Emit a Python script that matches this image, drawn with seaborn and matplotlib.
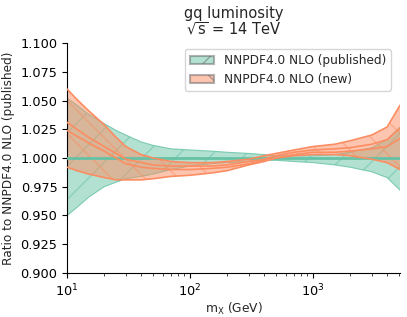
import numpy as np
import seaborn as sns
import matplotlib
matplotlib.use("Agg")
import matplotlib.pyplot as plt
from matplotlib.patches import Patch

# invariant mass grid (GeV)
mx = [10, 12, 15, 20, 25, 30, 40, 50, 70, 100, 150, 200, 300, 400, 500, 700,
      1000, 1500, 2000, 3000, 4000, 5100]

# published: 68% band (ratio to itself)
pub_up = [1.052, 1.046, 1.038, 1.030, 1.024, 1.020, 1.014, 1.011, 1.008, 1.007, 1.006,
          1.005, 1.004, 1.003, 1.002, 1.002, 1.002, 1.003, 1.005, 1.009, 1.016, 1.027]
pub_lo = [0.950, 0.957, 0.966, 0.975, 0.979, 0.982, 0.984, 0.986, 0.990, 0.993, 0.995,
          0.996, 0.997, 0.998, 0.998, 0.997, 0.996, 0.994, 0.992, 0.988, 0.983, 0.972]
pub_cv = [1.0] * len(mx)

# new fit
new_up = [1.060, 1.051, 1.041, 1.029, 1.018, 1.010, 1.003, 1.000, 0.997, 0.996, 0.996,
          0.997, 0.999, 1.002, 1.004, 1.007, 1.010, 1.012, 1.015, 1.020, 1.027, 1.046]
new_lo = [0.992, 0.989, 0.986, 0.983, 0.981, 0.981, 0.981, 0.982, 0.984, 0.985, 0.987,
          0.989, 0.994, 0.997, 1.000, 1.002, 1.003, 1.003, 1.002, 0.999, 0.996, 0.990]
new_a = [1.031, 1.025, 1.018, 1.010, 1.004, 0.999, 0.996, 0.994, 0.993, 0.993, 0.993,
         0.994, 0.997, 0.999, 1.002, 1.005, 1.007, 1.008, 1.009, 1.012, 1.016, 1.026]
new_b = [1.024, 1.019, 1.013, 1.006, 1.000, 0.995, 0.992, 0.991, 0.990, 0.990, 0.991,
         0.992, 0.995, 0.998, 1.000, 1.003, 1.005, 1.005, 1.006, 1.008, 1.010, 1.017]

labels = ["NNPDF4.0 NLO (published)", "NNPDF4.0 NLO (new)"]

sns.set_style("ticks")
plt.rcParams["mathtext.default"] = "regular"
plt.rcParams["font.family"] = ["DejaVu Sans"]
plt.rcParams["hatch.linewidth"] = 1.0

green, orange = sns.color_palette("Set2")[:2]

fig, ax = plt.subplots(figsize=(4.07, 3.17), dpi=100)

ax.fill_between(mx, pub_lo, pub_up, facecolor=green, edgecolor=green, alpha=0.5, hatch="/", lw=0, zorder=1)
ax.plot(mx, pub_up, color=green, lw=0.8, alpha=0.8)
ax.plot(mx, pub_lo, color=green, lw=0.8, alpha=0.8)
ax.plot(mx, pub_cv, color=green, lw=2, zorder=3)

ax.fill_between(mx, new_lo, new_up, facecolor=orange, edgecolor=orange, alpha=0.5, hatch="\\", lw=0, zorder=2)
for arr in [new_up, new_lo, new_a, new_b]:
    ax.plot(mx, arr, color=orange, lw=1.2, zorder=3)

ax.set_xscale("log")
ax.set_xlim(mx[0], mx[-1])
ax.set_ylim(0.9, 1.1)
ax.set_yticks([0.9, 0.925, 0.95, 0.975, 1.0, 1.025, 1.05, 1.075, 1.1])
ax.yaxis.set_major_formatter(matplotlib.ticker.FormatStrFormatter("%.3f"))
ax.tick_params(labelsize=9.3, colors="black")
ax.set_xlabel("$m_X$ (GeV)", fontsize=8.8, labelpad=1)
ax.set_ylabel("Ratio to NNPDF4.0 NLO (published)", fontsize=8.7)
ax.set_title("gq luminosity\n$\\sqrt{s}$ = 14 TeV", fontsize=10.5, linespacing=1.0)
sns.despine(ax=ax)
for s in ["left", "bottom"]:
    ax.spines[s].set_color("black")

handles = [Patch(facecolor=green, edgecolor="0.4", alpha=0.5, hatch="/", lw=1.5),
           Patch(facecolor=orange, edgecolor="0.4", alpha=0.5, hatch="\\", lw=1.5)]
ax.legend(handles, labels, loc="upper right", fontsize=8.7, frameon=True,
          bbox_to_anchor=(0.99, 1.0))

fig.subplots_adjust(left=0.165, right=0.983, top=0.864, bottom=0.139)
fig.savefig("out.png", dpi=100)
